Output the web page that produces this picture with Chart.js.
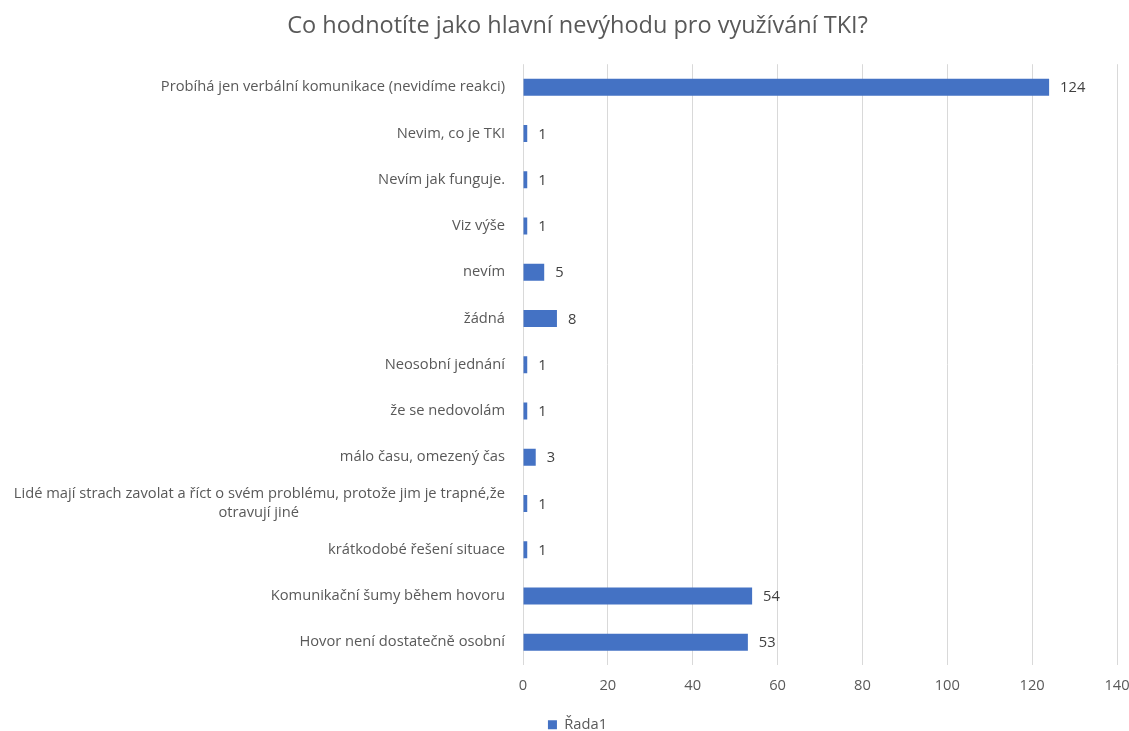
<!DOCTYPE html>
<html>
<head>
<meta charset="utf-8">
<title>TKI</title>
<script src="https://cdn.jsdelivr.net/npm/chart.js@4.4.0/dist/chart.umd.min.js"></script>
<style>
  html, body { margin: 0; background: #fff; }
  #chartBox { width: 1129px; height: 731px; }
</style>
</head>
<body>
<div id="chartBox"><canvas id="chart" width="1129" height="731"></canvas></div>
<script>
const chartTitle = "Co hodnotíte jako hlavní nevýhodu pro využívání TKI?";
const seriesName = "Řada1";

const categories = [
  "Probíhá jen verbální komunikace (nevidíme reakci)",
  "Nevim, co je TKI",
  "Nevím jak funguje.",
  "Viz výše",
  "nevím",
  "žádná",
  "Neosobní jednání",
  "že se nedovolám",
  "málo času, omezený čas",
  ["Lidé mají strach zavolat a říct o svém problému, protože jim je trapné,že", "otravují jiné"],
  "krátkodobé řešení situace",
  "Komunikační šumy během hovoru",
  "Hovor není dostatečně osobní"
];
const answers = [124, 1, 1, 1, 5, 8, 1, 1, 3, 1, 1, 54, 53];
const xTicks = [0, 20, 40, 60, 80, 100, 120, 140];

const textColor = "#595959";
const barColor = "#4472C4";
const fontSize = 14.7;
const labelFont = fontSize + "px 'Open Sans'";

// second line of a wrapped label gets trailing spaces so it sits centred under the first
const measureCtx = document.createElement("canvas").getContext("2d");
measureCtx.font = labelFont;
const centreLines = (label) => {
  if (!Array.isArray(label)) return label;
  const widest = Math.max(...label.map((l) => measureCtx.measureText(l).width));
  const space = measureCtx.measureText(" ").width;
  return label.map((l) => {
    const gap = (widest - measureCtx.measureText(l).width) / 2;
    return l + " ".repeat(Math.round(gap / space));
  });
};

// numbers at the end of every bar
const valueLabels = {
  id: "valueLabels",
  afterDatasetsDraw(chart) {
    const ctx = chart.ctx;
    const values = chart.data.datasets[0].data;
    ctx.save();
    ctx.font = labelFont;
    ctx.fillStyle = "#404040";
    ctx.textBaseline = "middle";
    ctx.textAlign = "left";
    chart.getDatasetMeta(0).data.forEach((bar, i) => {
      ctx.fillText(values[i], bar.x + 11, bar.y + 1);
    });
    ctx.restore();
  }
};

// title and legend sit a bit right of the canvas centre
const shiftBlocks = {
  id: "shiftBlocks",
  afterLayout(chart) {
    chart.titleBlock.left += 26;
    chart.legend.left += 26;
  }
};

new Chart(document.getElementById("chart").getContext("2d"), {
  type: "bar",
  data: {
    labels: categories.map(centreLines),
    datasets: [
      {
        label: seriesName,
        data: answers,
        backgroundColor: barColor,
        borderWidth: 0,
        categoryPercentage: 1,
        barPercentage: 0.37
      }
    ]
  },
  options: {
    indexAxis: "y",
    responsive: false,
    animation: false,
    layout: { padding: { left: 0, right: 0, bottom: -11 } },
    scales: {
      x: {
        min: 0,
        max: 140,
        afterBuildTicks: (scale) => {
          scale.ticks = xTicks.map((v) => ({ value: v }));
        },
        afterFit: (scale) => {
          scale.height = 48;
          scale.paddingRight = 12; // keep the last tick label from squeezing the plot
        },
        grid: { color: "#d9d9d9", drawTicks: false, lineWidth: 1 },
        border: { display: false },
        ticks: { color: textColor, font: { family: "Open Sans", size: fontSize }, padding: 12 }
      },
      y: {
        afterFit: (scale) => { scale.width = 523; },
        grid: { display: false, drawTicks: false },
        border: { display: false },
        ticks: { color: textColor, font: { family: "Open Sans", size: fontSize, lineHeight: 1.3 }, padding: 18, autoSkip: false }
      }
    },
    plugins: {
      title: {
        display: true,
        text: chartTitle,
        color: textColor,
        font: { family: "Open Sans", size: 23.5, weight: "normal" },
        padding: { top: 12, bottom: 24 }
      },
      legend: {
        position: "bottom",
        labels: {
          color: textColor,
          font: { family: "Open Sans", size: fontSize },
          boxWidth: 9,
          boxHeight: 9,
          padding: 4
        }
      },
      tooltip: { enabled: false }
    }
  },
  plugins: [valueLabels, shiftBlocks]
});
</script>
</body>
</html>
